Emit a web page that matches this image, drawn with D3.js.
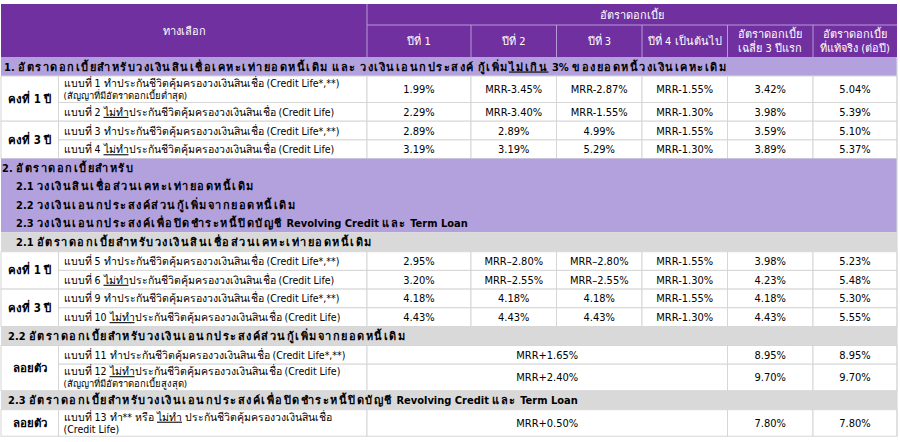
<!DOCTYPE html>
<html><head><meta charset="utf-8">
<script src="https://cdn.jsdelivr.net/npm/d3@7"></script>
<style>
html,body{margin:0;padding:0;background:#fff;}
svg text{font-family:"DejaVu Sans Condensed",Tahoma,"DejaVu Sans",sans-serif;font-size:11px;}
</style></head><body>
<svg id="t" width="900" height="442"></svg>
<script>
// ---------- DATA ----------
const headerTop = "ทางเลือก";
const headerGroup = "อัตราดอกเบี้ย";
const columns = ["ปีที่ 1","ปีที่ 2","ปีที่ 3","ปีที่ 4 เป็นต้นไป","อัตราดอกเบี้ย|เฉลี่ย 3 ปีแรก","อัตราดอกเบี้ย|ที่แท้จริง (ต่อปี)"];

const section1 = "1.  อัตราดอกเบี้ยสำหรับวงเงินสินเชื่อเคหะเท่ายอดหนี้เดิม และ วงเงินเอนกประสงค์ กู้เพิ่ม_ไม่เกิน_ 3% ของยอดหนี้วงเงินเคหะเดิม";
const section2 = ["2. อัตราดอกเบี้ยสำหรับ",
  "2.1 วงเงินสินเชื่อส่วนเคหะเท่ายอดหนี้เดิม",
  "2.2 วงเงินเอนกประสงค์ส่วนกู้เพิ่มจากยอดหนี้เดิม",
  "2.3 วงเงินเอนกประสงค์เพื่อปิดชำระหนี้ปิดบัญชี Revolving Credit และ Term Loan"];
const sub21 = "2.1 อัตราดอกเบี้ยสำหรับวงเงินสินเชื่อส่วนเคหะเท่ายอดหนี้เดิม";
const sub22 = "2.2 อัตราดอกเบี้ยสำหรับวงเงินเอนกประสงค์ส่วนกู้เพิ่มจากยอดหนี้เดิม";
const sub23 = "2.3 อัตราดอกเบี้ยสำหรับวงเงินเอนกประสงค์เพื่อปิดชำระหนี้ปิดบัญชี Revolving Credit และ Term Loan";

const groups1 = ["คงที่ 1 ปี","คงที่ 3 ปี"];
const groups21 = ["คงที่ 1 ปี","คงที่ 3 ปี"];
const groupFloat = "ลอยตัว";

const desc1 = [
  ["แบบที่ 1 ทำประกันชีวิตคุ้มครองวงเงินสินเชื่อ (Credit Life*,**)","(สัญญาที่มีอัตราดอกเบี้ยต่ำสุด)"],
  ["แบบที่ 2 _ไม่ทำ_ประกันชีวิตคุ้มครองวงเงินสินเชื่อ (Credit Life)"],
  ["แบบที่ 3 ทำประกันชีวิตคุ้มครองวงเงินสินเชื่อ (Credit Life*,**)"],
  ["แบบที่ 4 _ไม่ทำ_ประกันชีวิตคุ้มครองวงเงินสินเชื่อ (Credit Life)"]
];
const values1 = [
  ["1.99%","MRR-3.45%","MRR-2.87%","MRR-1.55%","3.42%","5.04%"],
  ["2.29%","MRR-3.40%","MRR-1.55%","MRR-1.30%","3.98%","5.39%"],
  ["2.89%","2.89%","4.99%","MRR-1.55%","3.59%","5.10%"],
  ["3.19%","3.19%","5.29%","MRR-1.30%","3.89%","5.37%"]
];
const desc21 = [
  ["แบบที่ 5 ทำประกันชีวิตคุ้มครองวงเงินสินเชื่อ (Credit Life*,**)"],
  ["แบบที่ 6 _ไม่ทำ_ประกันชีวิตคุ้มครองวงเงินสินเชื่อ (Credit Life)"],
  ["แบบที่ 9 ทำประกันชีวิตคุ้มครองวงเงินสินเชื่อ (Credit Life*,**)"],
  ["แบบที่ 10 _ไม่ทำ_ประกันชีวิตคุ้มครองวงเงินสินเชื่อ (Credit Life)"]
];
const values21 = [
  ["2.95%","MRR–2.80%","MRR–2.80%","MRR-1.55%","3.98%","5.23%"],
  ["3.20%","MRR–2.55%","MRR–2.55%","MRR-1.30%","4.23%","5.48%"],
  ["4.18%","4.18%","4.18%","MRR-1.55%","4.18%","5.30%"],
  ["4.43%","4.43%","4.43%","MRR-1.30%","4.43%","5.55%"]
];
const desc22 = [
  ["แบบที่ 11 ทำประกันชีวิตคุ้มครองวงเงินสินเชื่อ (Credit Life*,**)"],
  ["แบบที่ 12 _ไม่ทำ_ประกันชีวิตคุ้มครองวงเงินสินเชื่อ (Credit Life)","(สัญญาที่มีอัตราดอกเบี้ยสูงสุด)"]
];
const values22 = [["MRR+1.65%","8.95%","8.95%"],["MRR+2.40%","9.70%","9.70%"]];
const desc23 = [["แบบที่ 13 ทำ** หรือ _ไม่ทำ_ ประกันชีวิตคุ้มครองวงเงินสินเชื่อ","(Credit Life)"]];
const values23 = [["MRR+0.50%","7.80%","7.80%"]];

// ---------- LAYOUT ----------
const C = {purple:"#7030a0", lav:"#b3a1dd", grey:"#d9d9d9", line:"#d6d6d6", hline:"#b49bd4"};
const colKeys = ["grp","desc","y1","y2","y3","y4","avg","eff","end"];
const x = d3.scaleOrdinal().domain(colKeys).range([1,58.5,367,471,556.5,642,727.5,813,897]);
const valCols = ["y1","y2","y3","y4","avg","eff"];
const H = {h1:21,h2:32,sec:19,single:18.7,double:26.5,sec2:18.4,grey:19.5};
const top0 = 4;

const svg = d3.select("#t");
const g = svg.append("g");
const THAI = /[\u0E00-\u0E7F]+|[^\u0E00-\u0E7F]+/g;

function addText(sel, str, xx, yy, opts={}){
  const t = sel.append("text").attr("x",xx).attr("y",yy)
    .attr("text-anchor",opts.anchor||"start")
    .attr("fill",opts.fill||"#000")
    .attr("font-weight",opts.bold?"bold":null)
    .style("font-size",(opts.size||11)+"px");
  str.split("_").forEach((s,i)=>{
    (s.match(THAI)||[]).forEach(run=>{
      const ts=t.append("tspan").text(run);
      if(i%2===1) ts.style("text-decoration","underline");
      if(opts.thaiSpacing && /[\u0E00-\u0E7F]/.test(run)) ts.style("letter-spacing",opts.thaiSpacing+"px");
    });
  });
  return t;
}
function rect(x0,y0,x1,y1,fill,stroke){
  g.append("rect").attr("x",x0).attr("y",y0).attr("width",x1-x0).attr("height",y1-y0)
   .attr("fill",fill).attr("stroke",stroke||"none").attr("stroke-width",1);
}

// Header
let y = top0;
const yH1 = y, yH2 = y+H.h1, yH3 = y+H.h1+H.h2;
rect(x("grp"),yH1,x("end"),yH3,C.purple);
g.append("line").attr("x1",x("y1")).attr("x2",x("y1")).attr("y1",yH1).attr("y2",yH3).attr("stroke",C.hline);
g.append("line").attr("x1",x("y1")).attr("x2",x("end")).attr("y1",yH2).attr("y2",yH2).attr("stroke",C.hline);
valCols.slice(1).forEach(k=>g.append("line").attr("x1",x(k)).attr("x2",x(k)).attr("y1",yH2).attr("y2",yH3).attr("stroke",C.hline));
addText(g,headerTop,(x("grp")+x("y1"))/2,(yH1+yH3)/2+4,{anchor:"middle",fill:"#fff"});
addText(g,headerGroup,(x("y1")+x("end"))/2,(yH1+yH2)/2+4,{anchor:"middle",fill:"#fff"});
columns.forEach((c,i)=>{
  const k=valCols[i], k2=colKeys[colKeys.indexOf(k)+1];
  const cx=(x(k)+x(k2))/2, parts=c.split("|");
  parts.forEach((p,j)=>{
    const cy=(yH2+yH3)/2+4+(parts.length===2?(j===0?-7:7):0);
    addText(g,p,cx,cy,{anchor:"middle",fill:"#fff"});
  });
});
y = yH3;

function sectionRow(str,fill,h,indent){
  rect(x("grp"),y,x("end"),y+h,fill);
  addText(g,str,x("grp")+indent,y+h/2+4,{bold:true,thaiSpacing:1.5});
  y+=h;
}
function dataBlock(groupLabels, descs, vals, merged){
  const rowsPerGroup = merged ? descs.length : 2;
  const ys=[];
  descs.forEach(d=>{
    const h = d.length>1 ? H.double : H.single;
    ys.push([y,y+h]); y+=h;
  });
  const nG = Math.ceil(descs.length/rowsPerGroup);
  for(let gi=0;gi<nG;gi++){
    const y0=ys[gi*rowsPerGroup][0], y1=ys[Math.min(descs.length,(gi+1)*rowsPerGroup)-1][1];
    rect(x("grp"),y0,x("desc"),y1,"#fff",C.line);
    addText(g,groupLabels[gi],(x("grp")+x("desc"))/2,(y0+y1)/2+4,{anchor:"middle",bold:true,size:11.5});
  }
  descs.forEach((d,i)=>{
    const [y0,y1]=ys[i];
    rect(x("desc"),y0,x("y1"),y1,"#fff",C.line);
    if(d.length>1){
      addText(g,d[0],x("desc")+5,y0+11,{size:10.5});
      addText(g,d[1],x("desc")+5,y0+23,{size:d[1].startsWith("(ส")?9.5:10.5});
    } else addText(g,d[0],x("desc")+5,(y0+y1)/2+4,{size:10.5});
    if(merged){
      const spans=[["y1","avg"],["avg","eff"],["eff","end"]];
      vals[i].forEach((v,j)=>{
        rect(x(spans[j][0]),y0,x(spans[j][1]),y1,"#fff",C.line);
        addText(g,v,(x(spans[j][0])+x(spans[j][1]))/2,(y0+y1)/2+4,{anchor:"middle"});
      });
    } else {
      vals[i].forEach((v,j)=>{
        const k=valCols[j], k2=colKeys[colKeys.indexOf(k)+1];
        rect(x(k),y0,x(k2),y1,"#fff",C.line);
        addText(g,v,(x(k)+x(k2))/2,(y0+y1)/2+4,{anchor:"middle"});
      });
    }
  });
}

sectionRow(section1,C.lav,H.sec,3);
dataBlock(groups1,desc1,values1,false);
rect(x("grp"),y,x("end"),y+H.sec2*section2.length,C.lav);
section2.forEach((s,i)=>{ addText(g,s,x("grp")+(i===0?1:15),y+H.sec2*i+H.sec2/2+4,{bold:true,thaiSpacing:1.5}); });
y+=H.sec2*section2.length;
sectionRow(sub21,C.grey,H.grey,15);
dataBlock(groups21,desc21,values21,false);
sectionRow(sub22,C.grey,H.sec,7);
dataBlock([groupFloat],desc22,values22,true);
sectionRow(sub23,C.grey,H.sec,7);
dataBlock([groupFloat],desc23,values23,true);
g.append("line").attr("x1",x("end")).attr("x2",x("end")).attr("y1",yH3).attr("y2",y).attr("stroke",C.line);
</script></body></html>
